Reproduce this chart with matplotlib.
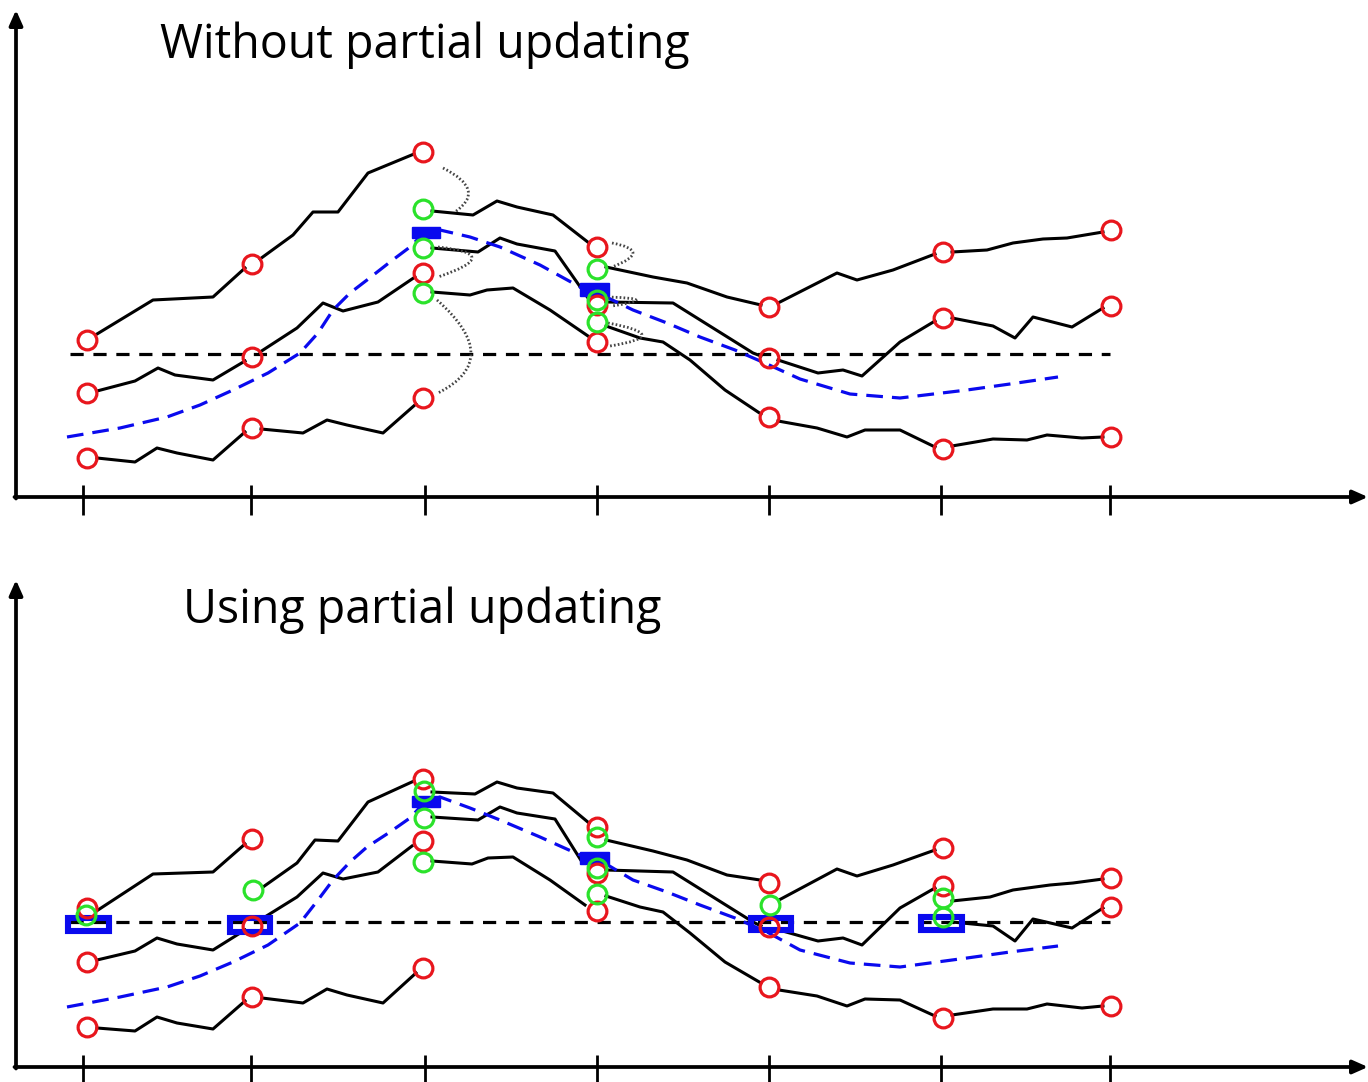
import numpy as np
import matplotlib.pyplot as plt
from matplotlib.patches import Rectangle, PathPatch
from matplotlib.path import Path

plt.rcParams['lines.scale_dashes'] = False

# --- layout of the two panels (image coordinates, y grows downward) ---
tick_x = [83, 251, 425, 597, 769, 941, 1110]
axis_y = [497, 1067]
ref_y = [354, 922]
titles = ["Without partial updating", "Using partial updating"]

# --- top panel: trajectories (black polylines) ---
top_paths = [
    [(97, 334), (153, 300), (213, 297), (245, 268)],
    [(97, 391), (135, 381), (158, 368), (175, 375), (213, 380), (245, 361)],
    [(97, 458), (135, 462), (157, 448), (177, 453), (213, 460), (245, 432)],
    [(260, 259), (293, 235), (313, 212), (338, 212), (368, 173), (414, 154)],
    [(260, 352), (297, 328), (323, 303), (343, 311), (378, 302), (415, 277)],
    [(261, 429), (303, 433), (327, 420), (347, 425), (383, 433), (416, 404)],
    [(432, 211), (473, 215), (497, 201), (517, 207), (553, 215), (589, 243)],
    [(432, 248), (478, 252), (500, 238), (517, 244), (555, 251), (588, 298)],
    [(432, 292), (470, 295), (487, 290), (513, 288), (550, 310), (588, 336)],
    [(606, 267), (653, 277), (687, 283), (727, 297), (761, 305)],
    [(606, 302), (673, 303), (753, 353), (761, 356)],
    [(606, 326), (640, 338), (663, 342), (690, 360), (725, 390), (761, 414)],
    [(778, 303), (837, 273), (857, 280), (893, 270), (935, 254)],
    [(778, 360), (818, 373), (843, 370), (862, 376), (900, 342), (935, 321)],
    [(778, 421), (817, 428), (847, 437), (865, 430), (900, 430), (935, 447)],
    [(952, 252), (987, 250), (1013, 243), (1043, 239), (1067, 238), (1103, 232)],
    [(952, 318), (993, 326), (1015, 338), (1033, 317), (1072, 327), (1103, 308)],
    [(952, 446), (993, 439), (1027, 440), (1047, 435), (1082, 438), (1103, 437)],
]
top_mean = [(67, 437), (120, 428), (167, 417), (200, 405), (233, 390), (268, 373),
            (300, 353), (318, 333), (333, 310), (350, 293), (367, 280), (390, 262),
            (410, 247), (424, 233), (440, 230), (470, 237), (500, 247), (540, 265),
            (580, 287), (596, 292), (633, 310), (667, 323), (700, 337), (735, 350),
            (767, 364), (800, 379), (850, 394), (900, 398), (967, 390), (1010, 384),
            (1058, 377)]
top_red = [(87, 340), (87, 393), (87, 458), (252, 264), (252, 357), (252, 428),
           (423, 152), (423, 273), (423, 398), (597, 247), (597, 305), (597, 342),
           (769, 307), (769, 358), (769, 417), (943, 252), (943, 318), (943, 449),
           (1111, 230), (1111, 306), (1111, 437)]
top_green = [(423, 209), (423, 248), (423, 293), (597, 269), (597, 300), (597, 322)]
top_est = [(412, 227, 28, 11), (580, 283, 29, 13)]
# resampling arcs: start, outermost point, end
top_arcs = [
    [(443, 168), (468, 190), (455, 212)],
    [(438, 247), (472, 258), (438, 277)],
    [(437, 300), (471, 353), (438, 393)],
    [(612, 243), (633, 253), (612, 267)],
    [(608, 297), (636, 300), (612, 306)],
    [(608, 323), (642, 335), (610, 346)],
]

# --- bottom panel ---
bot_paths = [
    [(98, 910), (153, 874), (213, 872), (245, 844)],
    [(97, 960), (135, 951), (157, 938), (177, 944), (213, 950), (245, 930)],
    [(97, 1028), (135, 1031), (157, 1017), (177, 1023), (213, 1029), (245, 1001)],
    [(263, 887), (297, 863), (315, 840), (338, 841), (368, 802), (414, 781)],
    [(260, 920), (297, 897), (323, 873), (343, 879), (378, 872), (412, 846)],
    [(262, 998), (303, 1003), (327, 989), (347, 995), (383, 1003), (416, 973)],
    [(432, 792), (475, 794), (497, 782), (517, 788), (553, 793), (589, 823)],
    [(432, 817), (478, 820), (500, 807), (517, 813), (555, 819), (582, 862)],
    [(432, 861), (472, 864), (488, 858), (513, 857), (550, 880), (585, 905)],
    [(606, 840), (653, 851), (687, 860), (727, 875), (760, 880)],
    [(606, 870), (673, 872), (753, 922), (761, 926)],
    [(606, 896), (640, 907), (663, 912), (690, 933), (725, 962), (761, 983)],
    [(779, 900), (837, 869), (857, 876), (893, 865), (935, 850)],
    [(779, 930), (818, 941), (843, 938), (862, 945), (900, 908), (935, 888)],
    [(779, 990), (817, 996), (847, 1006), (865, 999), (900, 1000), (935, 1016)],
    [(952, 901), (990, 897), (1013, 890), (1050, 885), (1073, 883), (1103, 879)],
    [(952, 922), (993, 926), (1015, 941), (1033, 919), (1072, 928), (1103, 908)],
    [(952, 1015), (993, 1009), (1027, 1009), (1047, 1004), (1082, 1008), (1103, 1006)],
]
bot_mean = [(67, 1007), (120, 997), (167, 987), (200, 976), (233, 962), (268, 945),
            (300, 923), (318, 900), (333, 880), (350, 862), (367, 847), (390, 832),
            (410, 818), (424, 803), (440, 797), (470, 808), (500, 820), (540, 837),
            (580, 855), (596, 858), (633, 880), (667, 892), (700, 905), (735, 918),
            (767, 932), (800, 950), (850, 963), (900, 967), (967, 958), (1010, 952),
            (1058, 946)]
bot_red = [(87, 908), (87, 962), (87, 1027), (252, 839), (252, 926), (252, 997),
           (423, 779), (423, 841), (423, 968), (597, 827), (597, 873), (597, 911),
           (769, 883), (769, 927), (769, 987), (943, 848), (943, 886), (943, 1018),
           (1111, 878), (1111, 907), (1111, 1006)]
bot_green = [(86, 915), (253, 890), (424, 791), (424, 818), (423, 862), (597, 837),
             (597, 868), (597, 894), (770, 905), (943, 898), (943, 917)]
bot_est = [(412, 796, 28, 11), (580, 852, 29, 12)]
bot_update = [(65, 915, 47, 19), (227, 915, 46, 20), (748, 915, 46, 18), (918, 914, 47, 19)]

RED = '#e8161d'
GREEN = '#2be22b'
BLUE = '#0a0aee'


def draw_arc(ax, s, m, e):
    # quadratic bezier through m at t=0.5
    c = (2 * m[0] - (s[0] + e[0]) / 2, 2 * m[1] - (s[1] + e[1]) / 2)
    p = Path([s, c, e], [Path.MOVETO, Path.CURVE3, Path.CURVE3])
    ax.add_patch(PathPatch(p, fill=False, ec='#444444', lw=2.0,
                           ls=(0, (1.2, 1.6)), zorder=3))


def draw_panel(ax, k, paths, mean, red, green, est, arcs, update):
    ay = axis_y[k]
    top = 10 if k == 0 else 580
    # axes with arrows
    ax.annotate('', xy=(16, top), xytext=(16, ay + 1.5),
                arrowprops=dict(arrowstyle='-|>,head_length=0.9,head_width=0.4',
                                lw=2.7, color='black', shrinkA=0, shrinkB=0))
    ax.annotate('', xy=(1368, ay), xytext=(14.5, ay),
                arrowprops=dict(arrowstyle='-|>,head_length=0.9,head_width=0.4',
                                lw=2.7, color='black', shrinkA=0, shrinkB=0))
    for tx in tick_x:
        ax.plot([tx, tx], [ay - 12, ay + 18], color='black', lw=2.0, solid_capstyle='butt')

    for p in paths:
        xs, ys = zip(*p)
        ax.plot(xs, ys, color='black', lw=2.2, zorder=2)

    ax.plot([70, 1110], [ref_y[k], ref_y[k]], color='black', lw=2.3,
            dashes=(9.5, 7), zorder=2)
    xs, ys = zip(*mean)
    ax.plot(xs, ys, color=BLUE, lw=2.3, dashes=(12, 6.5), zorder=3)

    for a in arcs:
        draw_arc(ax, *a)

    for (x, y, w, h) in est:
        ax.add_patch(Rectangle((x, y), w, h, color=BLUE, zorder=4))
    for (x, y, w, h) in update:
        ax.add_patch(Rectangle((x + 3, y + 3), w - 6, h - 6, fill=False,
                               ec=BLUE, lw=4.4, zorder=4))

    if red:
        xs, ys = zip(*red)
        ax.plot(xs, ys, 'o', ms=13.5, mfc='none', mec=RED, mew=2.3, zorder=5)
    if green:
        xs, ys = zip(*green)
        ax.plot(xs, ys, 'o', ms=13.5, mfc='none', mec=GREEN, mew=2.3, zorder=6)


fig = plt.figure(figsize=(13.68, 10.82), dpi=100)
ax = fig.add_axes([0, 0, 1, 1])
ax.set_xlim(0, 1368)
ax.set_ylim(1082, 0)
ax.axis('off')

draw_panel(ax, 0, top_paths, top_mean, top_red, top_green, top_est, top_arcs, [])
draw_panel(ax, 1, bot_paths, bot_mean, bot_red, bot_green, bot_est, [], bot_update)

ax.text(160, 58, titles[0], fontsize=33.5, family='Open Sans', va='baseline', ha='left')
ax.text(183, 623, titles[1], fontsize=33.5, family='Open Sans', va='baseline', ha='left')

fig.savefig('out.png', dpi=100)
